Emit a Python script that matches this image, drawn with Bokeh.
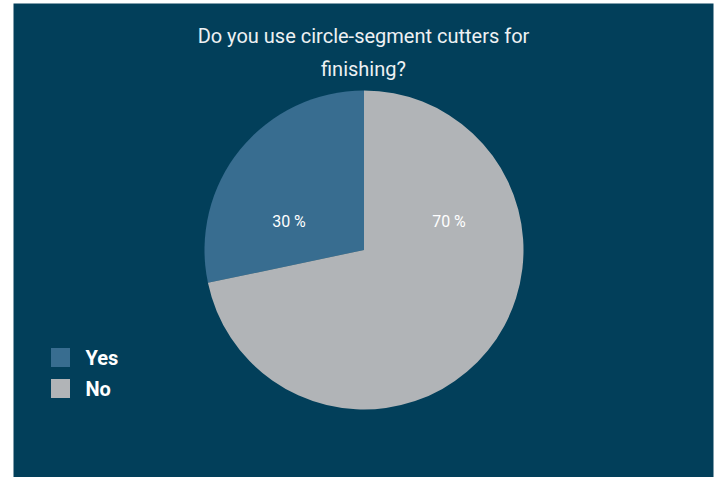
from math import pi
from bokeh.plotting import figure
from bokeh.models import Range1d, ColumnDataSource
from bokeh.core.properties import value
from bokeh.embed import file_html
from bokeh.resources import INLINE

title_lines = ["Do you use circle-segment cutters for", "finishing?"]
categories = ["Yes", "No"]
# slice sizes as drawn in the picture, and the printed labels
shares = [28.3, 71.7]
share_labels = ["30 %", "70 %"]
colors = ["#386d90", "#b1b4b7"]

BG = "#023f5a"
FONT = "Roboto"

p = figure(width=720, height=477, output_backend="svg", toolbar_location=None,
           x_range=Range1d(0, 700), y_range=Range1d(0, 474),
           min_border_left=13, min_border_right=7, min_border_top=3, min_border_bottom=0)
p.background_fill_color = BG
p.border_fill_color = "white"
p.outline_line_color = None
p.axis.visible = False
p.grid.visible = False

cx, cy, r = 350.5, 227.5, 159.5
total = sum(shares)
starts, ends = [], []
a = pi / 2
for s in shares:
    starts.append(a)
    a += 2 * pi * s / total
    ends.append(a)
src = ColumnDataSource(dict(start=starts, end=ends, color=colors, cat=categories))
p.wedge(x=cx, y=cy, radius=r, start_angle="start", end_angle="end", color="color",
        line_color=None, source=src)

# slice labels
lab_x = [cx - 75, cx + 85]
lab_y = [cy + 29, cy + 29]
p.text(x=lab_x, y=lab_y, text=share_labels, text_color="white",
       text_font=value(FONT), text_font_size="16px", text_align="center",
       text_baseline="middle")

# title
p.text(x=[350, 350], y=[442, 409], text=title_lines, text_color="#eef1f3",
       text_font=value(FONT), text_font_size="20px", text_align="center",
       text_baseline="middle")

# legend
leg_y = [120, 89]
p.rect(x=[47, 47], y=leg_y, width=19, height=19, color=colors, line_color=None)
p.text(x=[72, 72], y=leg_y, text=categories, text_color="white",
       text_font=value(FONT), text_font_size="20px", text_font_style="bold",
       text_align="left", text_baseline="middle")

open("out.html", "w").write(file_html(p, INLINE))
